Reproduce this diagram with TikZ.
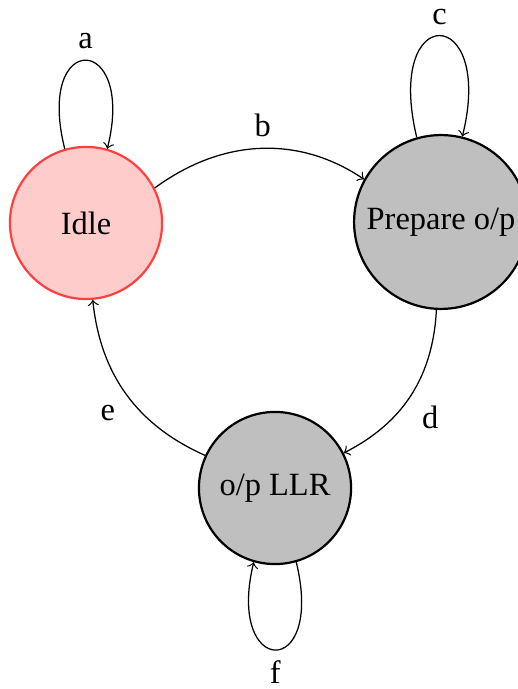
\documentclass[tikz,border=0pt]{standalone}
\usepackage{fontspec}
\setmainfont{Liberation Serif}
\begin{document}
\begin{tikzpicture}[x=0.3175pt,y=-0.3175pt,
  state/.style={circle,line width=0.7pt,inner sep=0pt,font=\fontsize{10.3}{12}\selectfont},
  idlestate/.style={state,draw=red!75,fill=red!20,minimum size=48.3pt},
  graystate/.style={state,draw=black,fill=gray!50},
  trans/.style={->,line width=0.4pt},
  lbl/.style={font=\fontsize{10.3}{12}\selectfont}]
\useasboundingbox (0,0) rectangle (518,689);
\node[idlestate] (idle) at (86,223) {Idle};
\node[graystate,minimum size=55.2pt] (prep) at (441,222) {Prepare o/p};
\node[graystate,minimum size=48.3pt] (llr) at (275,488) {o/p LLR};
% self loops
\draw[trans] (idle.106) .. controls +(-30,-119.5) and +(29,-116.5) .. node[lbl,pos=0.5,above] {a} (idle.74);
\draw[trans] (prep.106) .. controls +(-33,-137) and +(33,-133) .. node[lbl,pos=0.5,above] {c} (prep.76);
\draw[trans] (llr.286) .. controls +(29,119) and +(-28,115) .. node[lbl,pos=0.5,below] {f} (llr.254);
% transitions
\draw[trans] (idle.27) .. controls +(71,-52) and +(-62,-42) .. node[lbl,pos=0.5,above] {b} (prep.151);
\draw[trans] (prep.267) .. controls +(-3.5,66.7) and +(59.5,-30.3) .. node[lbl,pos=0.5,below right] {d} (llr.27);
\draw[trans] (llr.155) .. controls +(-68.3,-30.4) and +(7.8,74.4) .. node[lbl,pos=0.5,below left] {e} (idle.275);
\end{tikzpicture}
\end{document}
